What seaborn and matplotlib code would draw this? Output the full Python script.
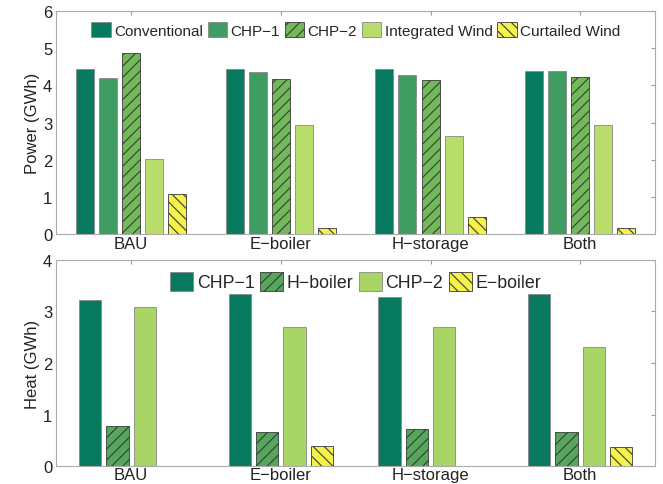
import pandas as pd
import numpy as np
import matplotlib
matplotlib.use('Agg')
import matplotlib.pyplot as plt
from matplotlib.patches import Patch
import seaborn as sns

scenarios = ['BAU', 'E\u2212boiler', 'H\u2212storage', 'Both']

# power (GWh)
power_sources = ['Conventional', 'CHP\u22121', 'CHP\u22122', 'Integrated Wind', 'Curtailed Wind']
conventional = [4.45, 4.45, 4.45, 4.38]
chp1_power = [4.20, 4.37, 4.28, 4.38]
chp2_power = [4.87, 4.18, 4.16, 4.23]
integrated_wind = [2.02, 2.93, 2.63, 2.94]
curtailed_wind = [1.08, 0.17, 0.47, 0.17]

# heat (GWh)
heat_sources = ['CHP\u22121', 'H\u2212boiler', 'CHP\u22122', 'E\u2212boiler']
chp1_heat = [3.23, 3.33, 3.28, 3.33]
h_boiler = [0.77, 0.67, 0.72, 0.67]
chp2_heat = [3.08, 2.70, 2.70, 2.32]
e_boiler = [0.0, 0.38, 0.0, 0.37]

power_colors = ['#077a5f', '#3f9d64', '#72b95a', '#b9dd6b', '#f5f34a']
power_hatch = ['', '', '///', '', '\\\\\\']
heat_colors = ['#077a5f', '#55a75c', '#a9d466', '#f5f34a']
heat_hatch = ['', '///', '', '\\\\\\']

power_df = pd.DataFrame({
    'scenario': scenarios * 5,
    'source': np.repeat(power_sources, 4),
    'value': conventional + chp1_power + chp2_power + integrated_wind + curtailed_wind,
})
heat_df = pd.DataFrame({
    'scenario': scenarios * 4,
    'source': np.repeat(heat_sources, 4),
    'value': chp1_heat + h_boiler + chp2_heat + e_boiler,
})

sns.set_style('white')
plt.rcParams['font.family'] = ['Liberation Sans', 'DejaVu Sans']
plt.rcParams['font.size'] = 11
plt.rcParams['hatch.linewidth'] = 0.8

fig = plt.figure(figsize=(6.63, 4.85), dpi=100)
ax1 = fig.add_axes([0.085, 0.515, 0.903, 0.46])
ax2 = fig.add_axes([0.085, 0.037, 0.903, 0.425])


def draw(ax, df, sources, colors, hatches, width, gap, ymax, ylabel, legsize):
    sns.barplot(data=df, x='scenario', y='value', hue='source', hue_order=sources,
                palette=colors, width=width, gap=gap, ax=ax, legend=False,
                edgecolor='#888888', linewidth=0.6, saturation=1)
    for cont, h in zip(ax.containers, hatches):
        for p in cont:
            p.set_hatch(h)
            if h:
                p.set_edgecolor('#3a3a3a')
            if p.get_height() == 0:
                p.set_visible(False)
    ax.set_xlim(-0.5, 3.5)
    ax.set_ylim(0, ymax)
    ax.set_yticks(range(0, ymax + 1))
    ax.set_xlabel('')
    ax.set_ylabel(ylabel, fontsize=12, color='#222222', labelpad=2)
    ax.tick_params(direction='in', length=3, color='#999999', labelcolor='#222222',
                   labelsize=12, top=True, right=True, pad=3)
    ax.tick_params(axis='x', pad=1)
    for s in ax.spines.values():
        s.set_color('#aaaaaa')
        s.set_linewidth(0.8)
    handles = [Patch(facecolor=c, hatch=h, edgecolor='#3a3a3a' if h else '#888888',
                     linewidth=0.6, label=l)
               for c, h, l in zip(colors, hatches, sources)]
    ax.legend(handles=handles, loc='upper center', ncol=len(sources), frameon=False,
              handlelength=1.3, handleheight=1.2, handletextpad=0.2, columnspacing=0.3,
              fontsize=legsize, borderaxespad=0.3)


draw(ax1, power_df, power_sources, power_colors, power_hatch, 0.77, 0.22, 6, 'Power (GWh)', 11)
draw(ax2, heat_df, heat_sources, heat_colors, heat_hatch, 0.73, 0.18, 4, 'Heat (GWh)', 12.8)

fig.savefig('out.png', dpi=100)
